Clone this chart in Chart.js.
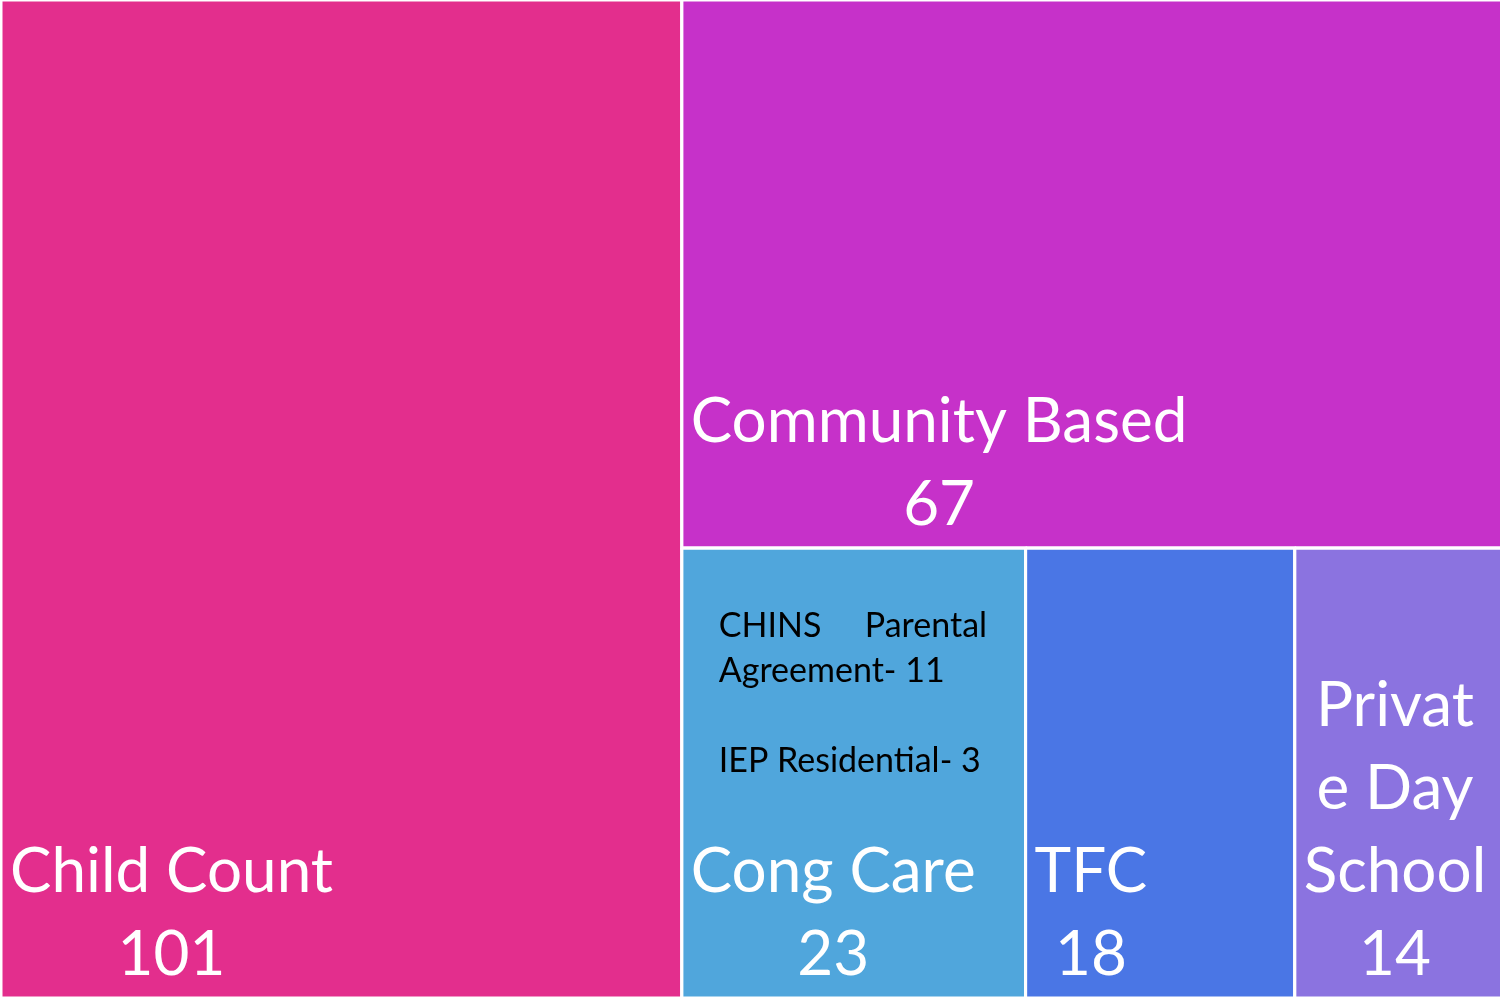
<!DOCTYPE html>
<html><head><meta charset="utf-8">
<style>html,body{margin:0;padding:0;background:#fff;overflow:hidden}#wrap{width:1500px;height:999px;position:relative;overflow:hidden}</style>
<script src="https://cdn.jsdelivr.net/npm/chart.js@4.4.1/dist/chart.umd.min.js"></script>
</head><body><div id="wrap"><canvas id="c" width="1504" height="999"></canvas></div>
<script>
// ---- data ----
const categories = ['Child Count', 'Community Based', 'Cong Care', 'TFC', ['Privat', 'e Day', 'School']];
const values = [101, 67, 23, 18, 14];
const colors = ['#E32E8D', '#C631C9', '#50A6DC', '#4A76E5', '#8B73E0'];
const noteCategory = 'Cong Care';
const noteLines = ['CHINS     Parental', 'Agreement- 11', '', 'IEP Residential- 3'];

// ---- layout space (data units) ----
const AREA_W = 1.5035, AREA_H = 1;

function worst(row, side) {
  const s = row.reduce((a, b) => a + b, 0);
  const mx = Math.max(...row), mn = Math.min(...row);
  return Math.max(side * side * mx / (s * s), (s * s) / (side * side * mn));
}
function squarify(vals, rect) {
  const total = vals.reduce((a, b) => a + b, 0);
  const areas = vals.map(v => v / total * rect.w * rect.h);
  const out = [];
  let r = Object.assign({}, rect), i = 0;
  while (i < areas.length) {
    const side = Math.min(r.w, r.h);
    const row = [areas[i]];
    let j = i + 1;
    while (j < areas.length && worst(row.concat([areas[j]]), side) <= worst(row, side)) { row.push(areas[j]); j++; }
    const s = row.reduce((a, b) => a + b, 0);
    if (r.w >= r.h) {
      const t = s / r.h; let yy = r.y;
      row.forEach(a => { const hh = a / t; out.push({x0: r.x, x1: r.x + t, y0: yy, y1: yy + hh}); yy += hh; });
      r = {x: r.x + t, y: r.y, w: r.w - t, h: r.h};
    } else {
      const t = s / r.w; let xx = r.x;
      row.forEach(a => { const ww = a / t; out.push({x0: xx, x1: xx + ww, y0: r.y, y1: r.y + t}); xx += ww; });
      r = {x: r.x, y: r.y + t, w: r.w, h: r.h - t};
    }
    i = j;
  }
  return out;
}
const cells = squarify(values, {x: 0, y: 0, w: AREA_W, h: AREA_H});

const datasets = [];
cells.forEach((c, i) => {
  datasets.push({
    label: 'fill' + i,
    data: [{x: c.x0, y: c.y0}, {x: c.x1, y: c.y0}],
    backgroundColor: colors[i], borderColor: colors[i], borderWidth: 0,
    fill: {value: c.y1}, pointRadius: 0, tension: 0, order: 2, clip: false
  });
});
cells.forEach((c, i) => {
  datasets.push({
    label: 'edge' + i,
    data: [{x: c.x0, y: c.y0}, {x: c.x1, y: c.y0}, {x: c.x1, y: c.y1}, {x: c.x0, y: c.y1}, {x: c.x0, y: c.y0}],
    borderColor: '#FFFFFF', borderWidth: 3, borderJoinStyle: 'miter',
    fill: false, pointRadius: 0, tension: 0, order: 1, clip: false
  });
});

const FONT = 'Lato, "Open Sans", sans-serif';
const labelPlugin = {
  id: 'cellLabels',
  afterDraw(chart) {
    const ctx = chart.ctx, xs = chart.scales.x, ys = chart.scales.y;
    ctx.save();
    cells.forEach((c, i) => {
      const L = xs.getPixelForValue(c.x0), B = ys.getPixelForValue(c.y1), T = ys.getPixelForValue(c.y0);
      const name = categories[i];
      const lines = (Array.isArray(name) ? name.slice() : [name]).concat([String(values[i])]);
      ctx.font = '62px ' + FONT;
      ctx.fillStyle = '#FFFFFF';
      ctx.textBaseline = 'alphabetic';
      ctx.textAlign = 'center';
      const blockW = Math.max(...lines.map(t => ctx.measureText(t).width));
      const cx = L + 9 + blockW / 2;
      const lh = 83;
      lines.forEach((t, k) => {
        const y = B - 23 - (lines.length - 1 - k) * lh;
        ctx.fillText(t, cx, y);
      });
      const nm = Array.isArray(name) ? name.join(' ') : name;
      if (nm === noteCategory) {
        ctx.font = '34px ' + FONT;
        ctx.fillStyle = '#000000';
        ctx.textAlign = 'left';
        noteLines.forEach((t, k) => ctx.fillText(t, L + 37, T + 89 + k * 45));
      }
    });
    ctx.restore();
  }
};

new Chart(document.getElementById('c'), {
  type: 'line',
  data: {datasets},
  options: {
    responsive: false, animation: false, devicePixelRatio: 1,
    layout: {padding: {left: 1, top: 0, right: 0, bottom: 1}},
    scales: {
      x: {type: 'linear', min: 0, max: AREA_W, display: false},
      y: {type: 'linear', min: 0, max: AREA_H, reverse: true, display: false}
    },
    plugins: {legend: {display: false}, tooltip: {enabled: false}}
  },
  plugins: [labelPlugin]
});
</script>
</body></html>
